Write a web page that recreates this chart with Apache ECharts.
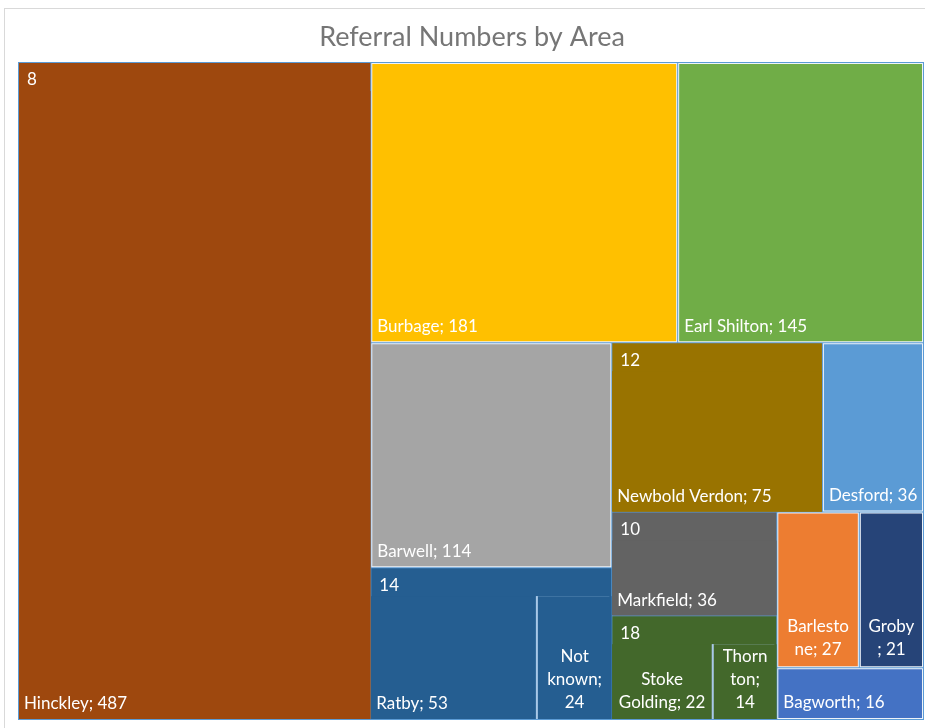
<!DOCTYPE html>
<html>
<head>
<meta charset="utf-8">
<title>Referral Numbers by Area</title>
<script src="https://cdn.jsdelivr.net/npm/echarts/dist/echarts.min.js"></script>
<style>
  html, body { margin: 0; padding: 0; background: #fff; width: 925px; height: 728px; overflow: hidden; }
  #frame { position: absolute; left: 4px; top: 8px; width: 960px; height: 760px; border: 1px solid #d9d9d9; }
  #main { position: absolute; left: 0; top: 0; width: 925px; height: 728px; }
</style>
</head>
<body>
<div id="frame"></div>
<div id="main"></div>
<script>
// areas and referral counts
// (ties are listed in reverse: echarts puts the later one first)
const areas = ['Hinckley', 'Burbage', 'Earl Shilton', 'Barwell', 'Ratby', 'Not known', 'Newbold Verdon',
  'Stoke Golding', 'Thornton', 'Markfield', 'Desford', 'Barlestone', 'Groby', 'Bagworth']
const referrals = [487, 181, 145, 114, 53, 24, 75, 22, 14, 36, 36, 27, 21, 16]
// parent category shown in the top-left corner (blank = none)
const parents = ['8', '', '', '', '14', '14', '12', '18', '18', '10', '', '', '', '']
const colors = ['#9E480E', '#FFC000', '#70AD47', '#A5A5A5', '#255E91', '#255E91', '#997300',
  '#43682B', '#43682B', '#636363', '#5B9BD5', '#ED7D31', '#264478', '#4472C4']
// where Excel wrapped the narrow labels (character positions)
const breaks = [[], [], [], [], [], [3, 10], [], [5], [5, 9], [], [], [8], [5], []]

const splitAt = (text, idx) => {
  const parts = []
  let last = 0
  idx.forEach((p) => { parts.push(text.slice(last, p).trim()); last = p })
  parts.push(text.slice(last).trim())
  return parts.join('\n')
}

const treeData = []
const groups = {}
areas.forEach((name, i) => {
  const leaf = { name, value: referrals[i], itemStyle: { color: colors[i] } }
  if (breaks[i].length) {
    leaf.label = {
      position: 'insideBottom',
      align: 'center',
      lineHeight: 23,
      formatter: splitAt(name + '; ' + referrals[i], breaks[i])
    }
  }
  const p = parents[i]
  if (!p) {
    treeData.push(leaf)
    return
  }
  let g = groups[p]
  if (!g) {
    g = { name: p, itemStyle: { color: colors[i], borderColor: colors[i], borderWidth: 0, gapWidth: 2 }, children: [] }
    groups[p] = g
    treeData.push(g)
  }
  leaf.itemStyle.borderWidth = 0
  leaf.itemStyle.borderColor = colors[i]
  if (g.children.length) {
    // separator line drawn into the gap on the left of the second sibling
    leaf.itemStyle.shadowColor = '#a9c8e8'
    leaf.itemStyle.shadowBlur = 0
    leaf.itemStyle.shadowOffsetX = -2
  }
  g.children.push(leaf)
})

const myChart = echarts.init(document.getElementById('main'), null, { renderer: 'canvas' })
myChart.setOption({
  animation: false,
  title: {
    text: 'Referral Numbers by Area',
    left: 467,
    top: 19,
    textAlign: 'center',
    textStyle: {
      fontFamily: 'Lato',
      fontSize: 27,
      fontWeight: 'normal',
      color: '#767676'
    }
  },
  series: [
    {
      type: 'treemap',
      left: 18,
      top: 62,
      width: 906,
      height: 658,
      squareRatio: 1.2045,
      roam: false,
      nodeClick: false,
      silent: true,
      breadcrumb: { show: false },
      label: {
        show: true,
        position: 'insideBottomLeft',
        distance: 5,
        padding: 0,
        color: '#fff',
        fontFamily: 'Lato',
        fontSize: 17,
        lineHeight: 20,
        formatter: '{b}; {c}'
      },
      levels: [
        {
          itemStyle: { borderColor: '#5B9BD5', borderWidth: 1, gapWidth: 1 }
        },
        {
          itemStyle: { borderColor: '#eef3f9', borderWidth: 1, gapWidth: 0 },
          upperLabel: {
            show: true,
            height: 28,
            position: [8, 17],
            verticalAlign: 'middle',
            padding: 0,
            color: '#fff',
            fontFamily: 'Lato',
            fontSize: 17,
            formatter: '{b}'
          }
        },
        {
          itemStyle: { gapWidth: 0 }
        }
      ],
      data: treeData
    }
  ]
})
</script>
</body>
</html>
